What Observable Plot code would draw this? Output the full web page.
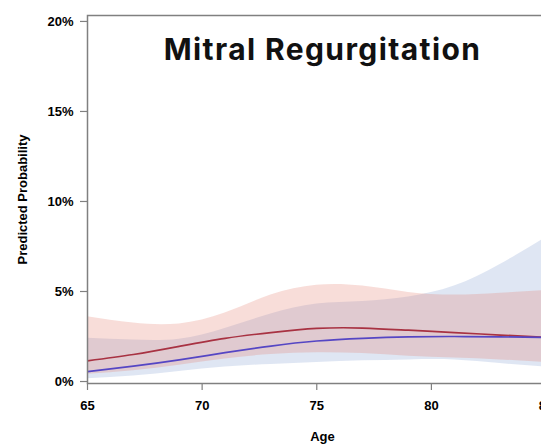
<!DOCTYPE html>
<html><head><meta charset="utf-8">
<script src="https://cdn.jsdelivr.net/npm/d3@7"></script>
<script src="https://cdn.jsdelivr.net/npm/@observablehq/plot@0.6"></script>
<style>
html,body{margin:0;padding:0;background:#fff;overflow:hidden;width:541px;height:444px}
#chart{position:relative;width:541px;height:444px;overflow:hidden}
#chart svg{max-width:none !important}
</style></head><body><div id="chart"></div>
<script>
const ages      = [65, 67, 69, 71, 73, 75, 77, 79, 81, 83, 85];
const redMid    = [1.15, 1.5, 1.95, 2.4, 2.72, 2.95, 2.97, 2.85, 2.72, 2.58, 2.45];
const redLow    = [0.4, 0.6, 0.9, 1.25, 1.5, 1.6, 1.55, 1.4, 1.3, 1.2, 1.05];
const redHigh   = [3.6, 3.25, 3.2, 3.8, 4.8, 5.35, 5.3, 4.95, 4.8, 4.9, 5.05];
const blueMid   = [0.55, 0.85, 1.2, 1.6, 1.97, 2.25, 2.4, 2.48, 2.5, 2.48, 2.45];
const blueLow   = [0.15, 0.3, 0.55, 0.8, 0.95, 1.05, 1.15, 1.2, 1.2, 1.0, 0.8];
const blueHigh  = [2.4, 2.3, 2.35, 2.95, 3.75, 4.3, 4.45, 4.7, 5.3, 6.5, 8.0];
const xTicks = [65, 70, 75, 80, 85];
const yTicks = [0, 5, 10, 15, 20];
const titleText = "Mitral Regurgitation";

const data = ages.map((a, i) => ({
  age: a, redMid: redMid[i], redLow: redLow[i], redHigh: redHigh[i],
  blueMid: blueMid[i], blueLow: blueLow[i], blueHigh: blueHigh[i]
}));

const plot = Plot.plot({
  width: 560, height: 444,
  marginLeft: 87, marginRight: 3, marginTop: 15, marginBottom: 61,
  style: {fontFamily: "Liberation Sans, Arial, sans-serif", fontSize: "13px", fontWeight: "bold", color: "#000", background: "#fff", maxWidth: "none"},
  x: {domain: [65, 85.5]},
  y: {domain: [-0.11, 20.33]},
  marks: [
    Plot.areaY(data, {x: "age", y1: "blueLow", y2: "blueHigh", fill: "rgb(110,140,200)", fillOpacity: 0.22, curve: "natural", clip: true}),
    Plot.areaY(data, {x: "age", y1: "redLow", y2: "redHigh", fill: "rgb(228,125,110)", fillOpacity: 0.26, curve: "natural", clip: true}),
    Plot.line(data, {x: "age", y: "redMid", stroke: "#a83242", strokeWidth: 1.7, curve: "natural", clip: true}),
    Plot.line(data, {x: "age", y: "blueMid", stroke: "#5546c4", strokeWidth: 1.7, curve: "natural", clip: true}),
    Plot.frame({stroke: "#808080", strokeWidth: 1.5}),
    Plot.axisX({ticks: xTicks, tickSize: 7, tickPadding: 10, stroke: "#808080", strokeWidth: 1.2,
      label: "Age", labelAnchor: "center", labelArrow: "none", labelOffset: 57, fontWeight: "bold", fontSize: 13}),
    Plot.axisY({ticks: yTicks, tickSize: 7, tickPadding: 7, stroke: "#808080", strokeWidth: 1.2,
      tickFormat: d => d + "%", label: "Predicted Probability", labelAnchor: "center", labelArrow: "none",
      labelOffset: 70, fontWeight: "bold", fontSize: 13}),
    Plot.text([titleText], {frameAnchor: "top", dy: 23, text: d => d, fontFamily: "Inter", fontWeight: 700, fontSize: 30, fill: "#111"})
  ]
});
plot.style.maxWidth = "none";
plot.querySelectorAll("text").forEach(t => { if (t.textContent === titleText) t.style.letterSpacing = "1.4px"; });
document.getElementById("chart").appendChild(plot);
</script></body></html>
